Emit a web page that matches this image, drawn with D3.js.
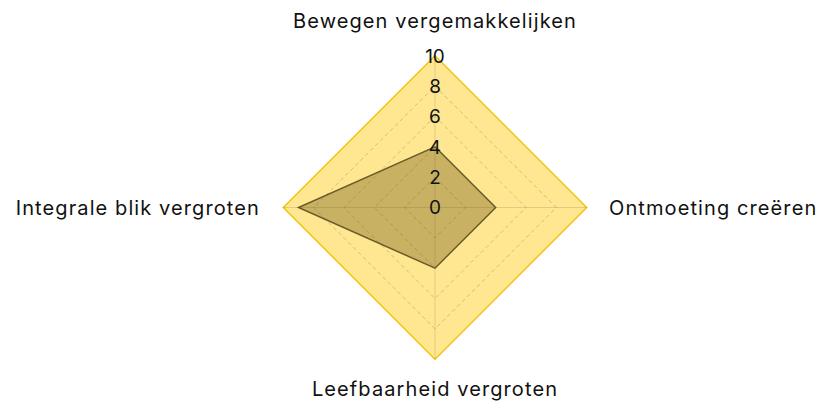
<!DOCTYPE html>
<html>
<head>
<meta charset="utf-8">
<script src="https://cdn.jsdelivr.net/npm/d3@7"></script>
<style>
  body { margin: 0; background: #fff; }
  svg text { font-family: Inter, "Noto Sans", sans-serif; }
</style>
</head>
<body>
<div id="chart"></div>
<script>
// radar chart
const WIDTH = 840;
const HEIGHT = 403;
const CX = 435, CY = 207.5, R = 151.7;

const axes = ['Bewegen vergemakkelijken', 'Ontmoeting creëren', 'Leefbaarheid vergroten', 'Integrale blik vergroten'];
const maxValues = [10, 10, 10, 10];
const scores = [4, 4, 4, 9];
const ticks = [0, 2, 4, 6, 8, 10];

const svg = d3.select('#chart')
  .append('svg')
    .attr('width', WIDTH)
    .attr('height', HEIGHT);

const g = svg.append('g')
  .attr('transform', `translate(${CX}, ${CY})`);

const rScale = d3.scaleLinear().domain([0, 10]).range([0, R]);
const angle = i => i * 2 * Math.PI / axes.length;

const radial = d3.lineRadial()
  .angle((d, i) => angle(i))
  .radius(d => rScale(d))
  .curve(d3.curveLinearClosed);

// outer filled area (max)
g.append('path')
  .attr('d', radial(maxValues))
  .attr('fill', '#ffe792')
  .attr('stroke', '#f2c40f')
  .attr('stroke-width', 1.5);

// grid rings
g.selectAll('.ring')
  .data(ticks.filter(t => t > 0 && t < 10))
  .enter()
  .append('path')
  .attr('class', 'ring')
  .attr('d', t => radial(axes.map(() => t)))
  .attr('fill', 'none')
  .attr('stroke', 'rgba(0,0,0,0.18)')
  .attr('stroke-width', 1)
  .attr('stroke-dasharray', '4,3');

// angle lines
g.selectAll('.spoke')
  .data(axes)
  .enter()
  .append('line')
  .attr('class', 'spoke')
  .attr('x1', 0).attr('y1', 0)
  .attr('x2', (d, i) => rScale(10) * Math.sin(angle(i)))
  .attr('y2', (d, i) => -rScale(10) * Math.cos(angle(i)))
  .attr('stroke', 'rgba(0,0,0,0.12)')
  .attr('stroke-width', 1);

// score area
g.append('path')
  .attr('d', radial(scores))
  .attr('fill', 'rgba(110,90,20,0.38)')
  .attr('stroke', '#6a5c28')
  .attr('stroke-width', 1.5)
  .attr('stroke-linejoin', 'miter');

// tick labels
g.selectAll('.tick')
  .data(ticks)
  .enter()
  .append('text')
  .attr('class', 'tick')
  .attr('x', 0)
  .attr('y', t => -rScale(t))
  .attr('dy', '0.36em')
  .attr('text-anchor', 'middle')
  .attr('font-size', 19)
  .attr('fill', '#111')
  .text(t => t);

// axis labels
const labelPos = [
  { x: 0, y: -187, anchor: 'middle' },
  { x: 174, y: 0, anchor: 'start' },
  { x: 0, y: 181, anchor: 'middle' },
  { x: -175, y: 0, anchor: 'end' }
];

g.selectAll('.label')
  .data(axes)
  .enter()
  .append('text')
  .attr('class', 'label')
  .attr('x', (d, i) => labelPos[i].x)
  .attr('y', (d, i) => labelPos[i].y)
  .attr('dy', '0.36em')
  .attr('text-anchor', (d, i) => labelPos[i].anchor)
  .attr('font-size', 20)
  .attr('letter-spacing', 1.1)
  .attr('fill', '#111')
  .text(d => d);
</script>
</body>
</html>
